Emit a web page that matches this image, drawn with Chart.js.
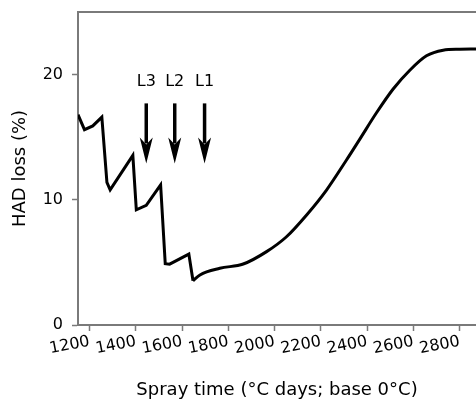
<!DOCTYPE html>
<html>
<head>
<meta charset="utf-8">
<script src="https://cdn.jsdelivr.net/npm/chart.js@4.4.0/dist/chart.umd.min.js"></script>
<style>
  html, body { margin: 0; padding: 0; background: #fff; overflow: hidden; }
</style>
</head>
<body>
<canvas id="grafica" width="476" height="402"></canvas>
<script>
// Parte en dientes de sierra (cada aplicación baja la pérdida)
const sawX = [1150, 1178, 1214, 1253, 1275, 1289, 1387, 1402, 1445, 1507, 1527, 1546, 1629, 1647];
const sawY = [16.8, 15.6, 15.9, 16.6, 11.4, 10.8, 13.55, 9.2, 9.56, 11.2, 4.9, 4.86, 5.66, 3.53];

// Subida suave después de la última aplicación
const curveX = [1647, 1677, 1763, 1864, 1965, 2051, 2138, 2224, 2311, 2368, 2440, 2512, 2584, 2656, 2728, 2800, 2870];
const curveY = [3.53, 4.0, 4.53, 4.87, 5.86, 7.05, 8.79, 10.78, 13.2, 14.85, 16.95, 18.85, 20.35, 21.5, 21.95, 22.03, 22.05];

// Ticks de los ejes
const xTicks = [1200, 1400, 1600, 1800, 2000, 2200, 2400, 2600, 2800];
const yTicks = [0, 10, 20];

// Flechas de las aplicaciones
const sprayX = [1445, 1568, 1697];
const sprayLabels = ['L3', 'L2', 'L1'];
const arrowTop = 17.7;
const arrowTip = 12.9;
const labelY = 19.4;

const axisColor = '#7a7a7a';
const fontFamily = '"DejaVu Sans", Verdana, sans-serif';

const flechas = {
    id: 'flechas',
    afterDatasetsDraw(chart) {
        const ctx = chart.ctx;
        const xs = chart.scales.x;
        const ys = chart.scales.y;
        const area = chart.chartArea;

        // borde superior
        ctx.save();
        ctx.strokeStyle = axisColor;
        ctx.lineWidth = 2;
        ctx.beginPath();
        ctx.moveTo(area.left, area.top);
        ctx.lineTo(chart.width, area.top);
        ctx.stroke();

        ctx.fillStyle = '#000';
        ctx.strokeStyle = '#000';
        ctx.font = '16px ' + fontFamily;
        ctx.textAlign = 'center';
        ctx.textBaseline = 'middle';
        sprayX.forEach((v, i) => {
            const px = xs.getPixelForValue(v);
            const top = ys.getPixelForValue(arrowTop);
            const tip = ys.getPixelForValue(arrowTip);
            const headLen = 26;
            ctx.lineWidth = 3.5;
            ctx.beginPath();
            ctx.moveTo(px, top);
            ctx.lineTo(px, tip - headLen + 6);
            ctx.stroke();
            ctx.beginPath();
            ctx.moveTo(px, tip);
            ctx.lineTo(px - 6.5, tip - headLen);
            ctx.lineTo(px, tip - headLen + 7);
            ctx.lineTo(px + 6.5, tip - headLen);
            ctx.closePath();
            ctx.fill();
            ctx.fillText(sprayLabels[i], px, ys.getPixelForValue(labelY));
        });
        ctx.restore();
    }
};

const ctx = document.getElementById('grafica').getContext('2d');
window.myChart = new Chart(ctx, {
    type: 'line',
    data: {
        datasets: [{
            data: sawX.map((x, i) => ({ x: x, y: sawY[i] })),
            borderColor: '#000',
            borderWidth: 3,
            pointRadius: 0,
            tension: 0,
            borderJoinStyle: 'miter',
            fill: false
        }, {
            data: curveX.map((x, i) => ({ x: x, y: curveY[i] })),
            borderColor: '#000',
            borderWidth: 3,
            pointRadius: 0,
            cubicInterpolationMode: 'monotone',
            fill: false
        }]
    },
    options: {
        responsive: false,
        animation: false,
        devicePixelRatio: 1,
        layout: { padding: { top: 12, right: 0, left: 0, bottom: 0 } },
        plugins: {
            legend: { display: false },
            tooltip: { enabled: false }
        },
        scales: {
            x: {
                type: 'linear',
                position: 'bottom',
                min: 1150,
                max: 2870,
                afterBuildTicks: (scale) => { scale.ticks = xTicks.map(v => ({ value: v })); },
                afterFit: (scale) => { scale.height = 77; },
                grid: { drawOnChartArea: false, color: axisColor, tickLength: 6, tickWidth: 1.5 },
                border: { color: axisColor, width: 2 },
                ticks: {
                    color: '#000',
                    font: { family: fontFamily, size: 16 },
                    minRotation: 11,
                    maxRotation: 11,
                    padding: 1,
                    callback: (v) => String(v)
                },
                title: {
                    display: true,
                    text: 'Spray time (°C days; base 0°C)',
                    color: '#000',
                    font: { family: fontFamily, size: 18 },
                    padding: { top: 0, bottom: 1 }
                }
            },
            y: {
                type: 'linear',
                min: 0,
                max: 25,
                afterBuildTicks: (scale) => { scale.ticks = yTicks.map(v => ({ value: v })); },
                afterFit: (scale) => { scale.width = 78; scale.paddingTop = 0; scale.paddingBottom = 0; },
                grid: { drawOnChartArea: false, color: axisColor, tickLength: 6, tickWidth: 1.5 },
                border: { color: axisColor, width: 2 },
                ticks: {
                    color: '#000',
                    font: { family: fontFamily, size: 16 },
                    padding: 9,
                    callback: (v) => String(v)
                },
                title: {
                    display: true,
                    text: 'HAD loss (%)',
                    color: '#000',
                    font: { family: fontFamily, size: 18 },
                    padding: { top: 10, bottom: 0 }
                }
            }
        }
    },
    plugins: [flechas]
});
</script>
</body>
</html>
